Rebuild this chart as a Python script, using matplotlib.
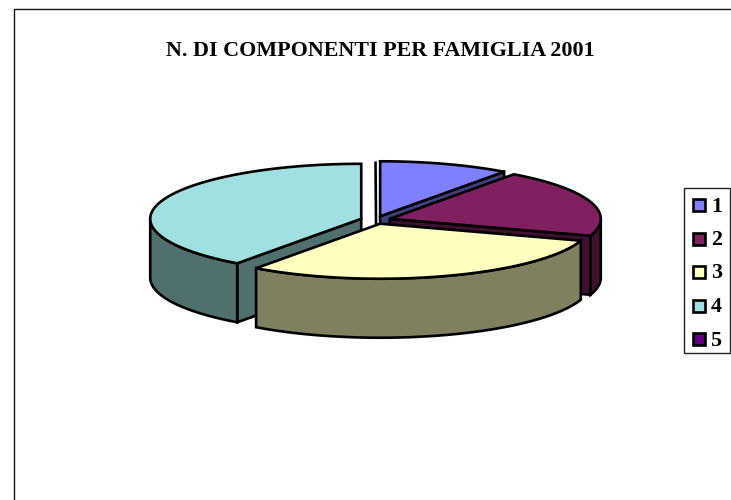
import numpy as np
import matplotlib
matplotlib.use('Agg')
import matplotlib.pyplot as plt
from matplotlib.patches import Polygon, Rectangle

# dati
labels = ['1', '2', '3', '4', '5']
values = [10, 20, 30, 40, 0]
colors = ['#8080FF', '#802060', '#FFFFC0', '#A0E0E0', '#600080']
sides = ['#404080', '#401030', '#808060', '#507070', '#300040']
title = 'N. DI COMPONENTI PER FAMIGLIA 2001'

# geometria della torta (pixel)
cx, cy = 375.5, 220
rx, ry = 211, 55
depth = 59
expl = 15
lw = 1.9

plt.rcParams['font.family'] = ['Liberation Serif', 'DejaVu Serif']

fig = plt.figure(figsize=(7.31, 5.0), dpi=100)
ax = fig.add_axes([0, 0, 1, 1])
ax.set_xlim(0, 731)
ax.set_ylim(500, 0)
ax.axis('off')


def rim(x0, y0, angle):
    # angolo in senso orario dalle ore 12
    t = np.radians(angle)
    return x0 + rx*np.sin(t), y0 - ry*np.cos(t)


def poly(xy, fc):
    ax.add_patch(Polygon(xy, closed=True, fc=fc, ec='black', lw=lw, joinstyle='miter'))


def side_face(x0, y0, a, fc):
    x1, y1 = rim(x0, y0, a)
    poly([(x0, y0), (x1, y1), (x1, y1+depth), (x0, y0+depth)], fc)


#%% fette
total = sum(values)
edges = np.cumsum([0] + values)*360.0/total
slices = []
for i in range(len(values)):
    slices.append((edges[i], edges[i+1], i))
# dal fondo verso il davanti
slices.sort(key=lambda s: -np.cos(np.radians((s[0]+s[1])/2)))

for a0, a1, i in slices:
    mid = np.radians((a0+a1)/2)
    x0 = cx + expl*np.sin(mid)
    y0 = cy - expl*ry/rx*np.cos(mid)

    # facce radiali visibili
    if np.sin(np.radians(a1)) > 0.01:
        side_face(x0, y0, a1, sides[i])
    if np.sin(np.radians(a0)) < -0.01:
        side_face(x0, y0, a0, sides[i])

    # bordo esterno
    f0, f1 = max(a0, 90), min(a1, 270)
    if f1 > f0:
        t = np.linspace(f0, f1, 120)
        xs, ys = rim(x0, y0, t)
        pts = list(zip(xs, ys)) + list(zip(xs[::-1], ys[::-1]+depth))
        poly(pts, sides[i])

    # faccia superiore
    if a1 > a0:
        t = np.linspace(a0, a1, 200)
        xs, ys = rim(x0, y0, t)
        poly([(x0, y0)] + list(zip(xs, ys)), colors[i])
    else:
        # fetta nulla: resta solo il segno verticale
        xs, ys = rim(x0, y0, a0)
        poly([(x0, y0+depth), (xs, ys)], colors[i])

#%% titolo
ax.text(380, 50.5, title, ha='center', va='center', fontsize=15.8, fontweight='bold')

#%% legenda
ax.add_patch(Rectangle((684, 188), 46, 165, fc='white', ec='#222222', lw=1.0))
key_y = [205, 238.5, 272, 305.5, 339]
for i in range(len(labels)):
    ax.add_patch(Rectangle((692.5, key_y[i]-6), 12, 12, fc=colors[i], ec='black', lw=lw, joinstyle='miter'))
    ax.text(711, key_y[i]+1.5, labels[i], ha='left', va='center', fontsize=15.8, fontweight='bold')

#%% cornice
ax.plot([14, 14, 731], [500, 9, 9], color='#111111', lw=1.0, solid_joinstyle='miter')

plt.savefig('out.png', dpi=100)
